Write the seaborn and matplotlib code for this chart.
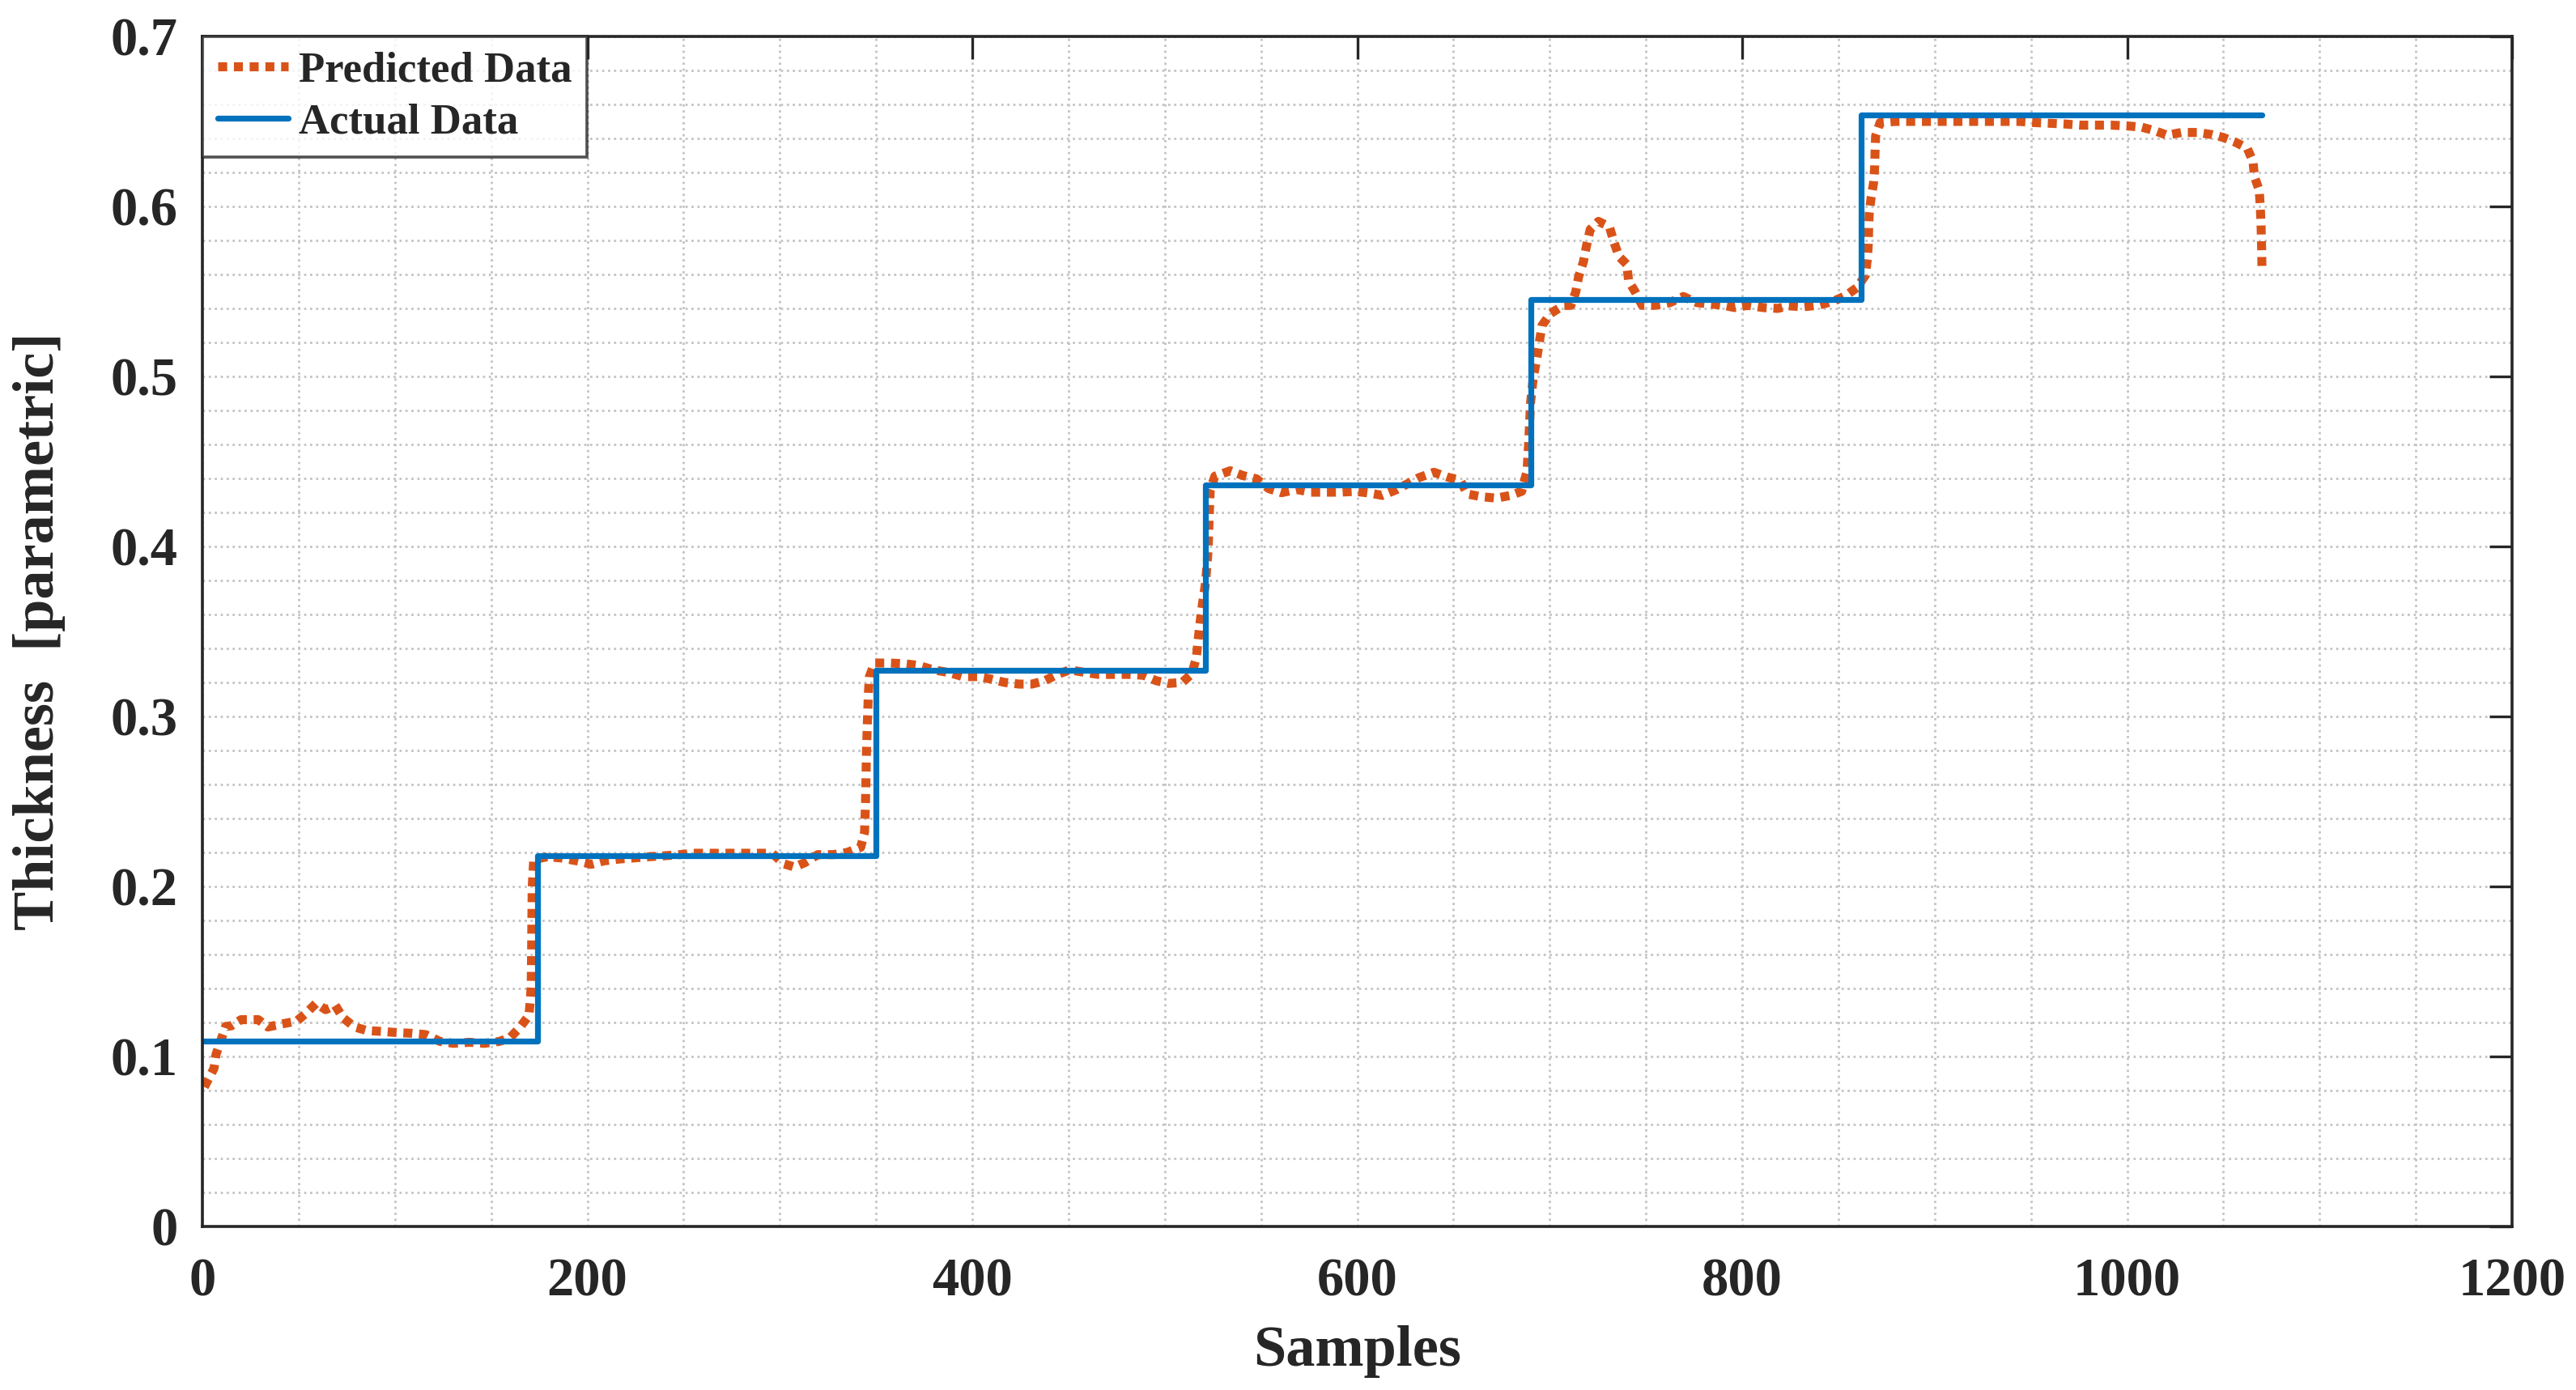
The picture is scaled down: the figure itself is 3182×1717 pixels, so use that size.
import numpy as np
import pandas as pd
import matplotlib
matplotlib.use("Agg")
from matplotlib import pyplot as plt
from matplotlib.ticker import MultipleLocator
import seaborn as sns

# Actual data is a staircase: one level per block of samples
actual_x = [0, 174, 350, 521, 690, 862, 1070]
actual_y = [0.109, 0.218, 0.327, 0.436, 0.545, 0.654, 0.654]

# Predicted data
pred_x = [1, 6, 7, 9.7, 12, 15, 20, 29, 34, 41, 49, 54, 59, 64, 69, 73, 79, 85.5, 93, 101,
          108.6, 116, 123.4, 130.4, 138.8, 146.5, 154.2, 159.8, 164.7, 169.6, 170.3, 170.8, 171, 171.3, 172.1,
          179.3, 186.5, 194.7, 202, 208.5, 216.5, 224.5, 232.6, 239.8, 248, 256, 264, 272, 280, 288, 296,
          302, 307.6, 313, 319.7, 327.7, 335, 342, 344, 344.5, 345, 345.5, 346, 346.5, 349.2,
          356.9, 364.5, 372, 379.7, 387.8, 395, 403, 410.3, 416.7, 424.4, 430.9, 437.6, 443.2, 450.5,
          457.7, 465.4, 473, 481, 489, 495.5, 502, 509, 514, 516.4, 517.2, 518.8, 521.2, 522.5, 523, 523.6,
          526, 534, 540.5, 547.7, 554, 560.6, 568.5, 575.6, 583.5, 591.2, 599, 606.6, 613, 620.6, 631.9,
          639.8, 646.5, 653.5, 657.2, 664.7, 672.2, 679.7, 685.4, 688.2, 689, 690, 691.5, 692.9, 694.7,
          696, 700.4, 707, 711, 713.5, 715, 717.5, 719.1, 721, 725.3, 731, 733.5, 736, 740, 741, 744.4,
          748, 754.7, 762.4, 769.4, 776.4, 783.5, 790.5, 796, 803, 810.8, 818.5, 824, 831.8, 839.5, 847.3,
          853.6, 859.7, 864, 865, 865.5, 865.7, 866, 867, 868.2, 868.8, 869, 869.3, 871.6, 879.6, 887.5,
          896, 903.8, 912, 919.8, 927.9, 936, 943.8, 952.2, 959.8, 967.6, 975.7, 983.6, 991.7, 999.7,
          1007.6, 1014.2, 1020.7, 1028.2, 1036.7, 1044.2, 1049.8, 1056.4, 1062.4, 1065.4, 1066.1, 1068.6,
          1069.1, 1069.5, 1069.7, 1069.9, 1070]
pred_y = [0.082, 0.093, 0.101, 0.110, 0.1176, 0.118, 0.1216, 0.1216, 0.1173, 0.119, 0.1208, 0.1256,
          0.1312, 0.1275, 0.130, 0.1227, 0.1173, 0.1152, 0.1147, 0.114, 0.1136, 0.1128, 0.1088, 0.1077,
          0.1083, 0.1077, 0.1088, 0.111, 0.1168, 0.124, 0.1328, 0.1416, 0.1608, 0.199, 0.2157,
          0.2175, 0.2167, 0.215, 0.213, 0.215, 0.2161, 0.2168, 0.2175, 0.218, 0.2187, 0.2195, 0.2195,
          0.2195, 0.2195, 0.2195, 0.2195, 0.2133, 0.2114, 0.214, 0.2187, 0.2187, 0.220, 0.223, 0.232,
          0.25, 0.28, 0.298, 0.314, 0.3234, 0.3314,
          0.3314, 0.331, 0.330, 0.3274, 0.3258, 0.3234, 0.3234, 0.3218, 0.320, 0.319, 0.319, 0.321,
          0.3242, 0.3274, 0.326, 0.3247, 0.3247, 0.3247, 0.3242, 0.321, 0.3194, 0.320, 0.325, 0.3346,
          0.344, 0.36, 0.379, 0.398, 0.416, 0.4334,
          0.4413, 0.4445, 0.4417, 0.4397, 0.434, 0.4316, 0.4335, 0.4319, 0.4319, 0.4319, 0.4324, 0.4313,
          0.430, 0.4335, 0.4404, 0.4436, 0.4409, 0.4388, 0.4308, 0.4292, 0.4284, 0.430, 0.4324, 0.4444,
          0.460, 0.4843, 0.50, 0.508, 0.521,
          0.530, 0.537, 0.5417, 0.5418, 0.5497, 0.5587, 0.5675, 0.5769, 0.5864, 0.5912, 0.588, 0.5785,
          0.5705, 0.5659, 0.5561, 0.5497,
          0.5418, 0.5418, 0.5434, 0.547, 0.5434, 0.5426, 0.5418, 0.5405, 0.5418, 0.5405, 0.540, 0.5415,
          0.541, 0.5418, 0.5442, 0.5474, 0.5523, 0.5595, 0.569, 0.5778, 0.5873, 0.596, 0.6056, 0.6136,
          0.6231, 0.6319, 0.6414, 0.6493, 0.650, 0.650,
          0.650, 0.650, 0.650, 0.650, 0.650, 0.650, 0.650, 0.6493, 0.6489, 0.6485, 0.6478, 0.6478,
          0.6478, 0.6474, 0.6466, 0.6446, 0.6419, 0.6435, 0.6435, 0.6422, 0.6406, 0.6377, 0.6342,
          0.6263, 0.6176, 0.6096, 0.6009, 0.5913, 0.5826, 0.5738, 0.565]

x_ticks = [0, 200, 400, 600, 800, 1000, 1200]
y_ticks = [0, 0.1, 0.2, 0.3, 0.4, 0.5, 0.6, 0.7]

sns.set_theme(style="white")
plt.rcParams['font.family'] = ['Liberation Serif', 'DejaVu Serif']
plt.rcParams['font.weight'] = 'bold'

pred = pd.DataFrame({"Samples": pred_x, "Thickness": pred_y})
actual = pd.DataFrame({"Samples": actual_x, "Thickness": actual_y})

fig = plt.figure(figsize=(15.91, 8.585), dpi=200)
ax = fig.add_axes([0.0786, 0.1177, 0.8966, 0.8561])

sns.lineplot(data=pred, x="Samples", y="Thickness", ax=ax, sort=False, estimator=None,
             color="#D95319", linewidth=4.0, linestyle=(0, (1, 0.75)),
             label="Predicted Data")
sns.lineplot(data=actual, x="Samples", y="Thickness", ax=ax, sort=False, estimator=None,
             color="#0072BD", linewidth=2.6, drawstyle="steps-post",
             label="Actual Data")

ax.set_xlim(0, 1200)
ax.set_ylim(0, 0.7)
ax.set_xticks(x_ticks)
ax.set_yticks(y_ticks)
ax.set_xticklabels([str(t) for t in x_ticks])
ax.set_yticklabels([("%g" % t) for t in y_ticks])
ax.xaxis.set_minor_locator(MultipleLocator(50))
ax.yaxis.set_minor_locator(MultipleLocator(0.02))

# MATLAB-style dotted grid, major and minor look the same
ax.grid(True, which="major", linestyle=":", color="#c4c4c4", linewidth=1.0)
ax.grid(True, which="minor", linestyle=":", color="#c4c4c4", linewidth=1.0)
ax.set_axisbelow(True)

ax.tick_params(axis="both", which="major", direction="in", length=10, width=1.2,
               color="#262626", labelsize=24, top=True, right=True)
ax.tick_params(axis="x", which="major", pad=14)
ax.tick_params(axis="y", which="major", pad=11)
ax.tick_params(which="minor", length=0)
for lab in ax.get_xticklabels() + ax.get_yticklabels():
    lab.set_fontweight("bold")
    lab.set_color("#262626")

for side in ax.spines.values():
    side.set_visible(True)
    side.set_color("#262626")
    side.set_linewidth(1.3)

ax.set_xlabel("Samples", fontsize=26, fontweight="bold", labelpad=8)
ax.set_ylabel("Thickness  [parametric]", fontsize=26, fontweight="bold", labelpad=20)

leg = ax.legend(loc="upper left", fontsize=19, frameon=True, fancybox=False,
                borderaxespad=0, handlelength=1.65, handletextpad=0.25,
                borderpad=0.35, labelspacing=0.3)
leg.get_frame().set_edgecolor("#262626")
leg.get_frame().set_linewidth(1.3)
for t in leg.get_texts():
    t.set_fontweight("bold")

fig.savefig("out.png", dpi=200, facecolor="white")
